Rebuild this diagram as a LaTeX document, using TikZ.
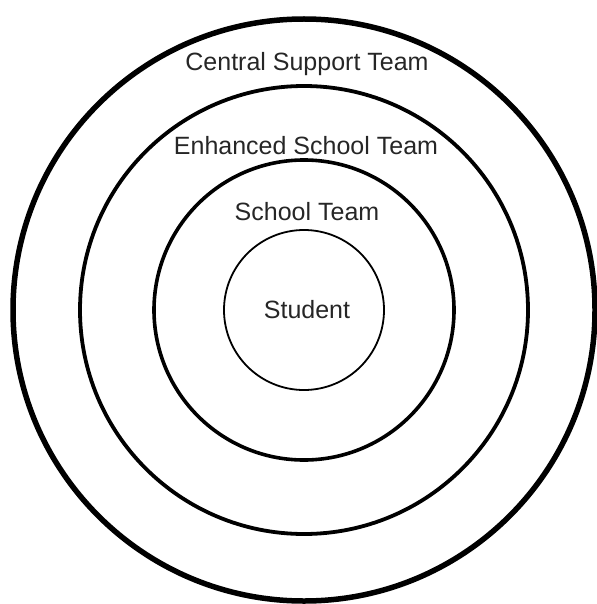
\documentclass[tikz,border=0pt]{standalone}
\usepackage{fontspec}
\setmainfont{Liberation Sans}
\begin{document}
\begin{tikzpicture}[x=1pt,y=-1pt,
  ring/.style={draw=black,fill=none},
  lbl/.style={anchor=base,inner sep=0pt,text=black!85,font=\fontsize{25}{28}\selectfont}]
\useasboundingbox (0,0) rectangle (596,604);
\coordinate (c) at (304,310);
% nested team rings, outermost first
\draw[ring,line width=5.5pt] (c) circle[radius=291];
\draw[ring,line width=3.8pt] (c) circle[radius=224];
\draw[ring,line width=3.6pt] (c) circle[radius=150];
\draw[ring,line width=1.8pt] (c) circle[radius=80];
% ring labels
\node[lbl] (central) at (307,71) {Central Support Team};
\node[lbl] (enhanced) at (306,155) {Enhanced School Team};
\node[lbl] (school) at (307,220) {School Team};
\node[lbl] (student) at (307,318) {Student};
\end{tikzpicture}
\end{document}
